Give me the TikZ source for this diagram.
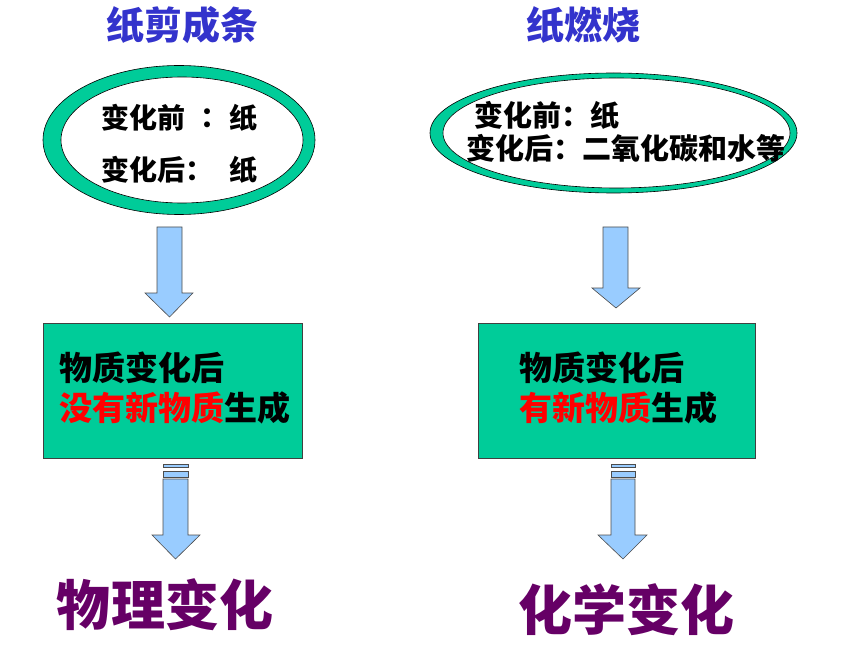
\documentclass[tikz,border=0pt]{standalone}
\usepackage{fontspec}
\setmainfont{Noto Sans CJK SC}
\newfontfamily\cjk{Noto Sans CJK SC}
\definecolor{boxgreen}{RGB}{0,204,153}
\definecolor{arrowblue}{RGB}{153,204,255}
\definecolor{titleblue}{RGB}{51,51,204}
\definecolor{labelpurple}{RGB}{102,0,102}
\definecolor{hotred}{RGB}{255,0,0}
\tikzset{
  ring/.style={fill=boxgreen, draw=black, line width=0.6bp},
  hole/.style={fill=white, draw=black, line width=0.6bp},
  greenbox/.style={fill=boxgreen, draw=black!75, line width=0.8bp},
  blockarrow/.style={fill=arrowblue, draw=black!70, line width=0.6bp, line join=miter},
  txt/.style={inner sep=0pt, anchor=west, font=\cjk\bfseries},
  title/.style={inner sep=0pt, text=titleblue, font=\cjk\bfseries\fontsize{38bp}{40bp}\selectfont},
  bigl/.style={inner sep=0pt, text=labelpurple, font=\cjk\bfseries\fontsize{54bp}{56bp}\selectfont},
  elltext/.style={txt, font=\cjk\bfseries\fontsize{28bp}{30bp}\selectfont},
  elltextb/.style={txt, font=\cjk\bfseries\fontsize{29bp}{31bp}\selectfont},
  boxtext/.style={txt, font=\cjk\bfseries\fontsize{33bp}{36bp}\selectfont},
}
\begin{document}
\begin{tikzpicture}[x=1bp,y=-1bp]
\useasboundingbox (0,0) rectangle (860,645);
% titles
\node[title] (t1) at (182,25) {纸剪成条};
\node[title] (t2) at (583,25) {纸燃烧};
% left ellipse
\path[ring] (179,140) ellipse [x radius=136, y radius=74.5];
\path[hole] (182,140) ellipse [x radius=121, y radius=63];
\node[elltext] (l1a) at (101,118) {变化前};
\node[elltext] (l1b) at (200,118) {：};
\node[elltext] (l1c) at (229,118) {纸};
\node[elltext] (l2a) at (101,170) {变化后：};
\node[elltext] (l2c) at (229,170) {纸};
% right ellipse
\path[ring] (613.5,133) ellipse [x radius=183.5, y radius=60];
\path[hole] (616.5,133) ellipse [x radius=173.5, y radius=55];
\node[elltextb] (r1) at (474,115) {变化前：纸};
\node[elltextb] (r2) at (466,148) {变化后：二氧化碳和水等};
% upper arrows
\path[blockarrow] (157,227) -- (182,227) -- (182,293) -- (193,293) -- (169.5,317) -- (145,293) -- (157,293) -- cycle;
\path[blockarrow] (603,227) -- (628,227) -- (628,288) -- (640,288) -- (616,308) -- (592,288) -- (603,288) -- cycle;
% boxes
\node[greenbox, minimum width=259bp, minimum height=135bp, inner sep=0pt, anchor=north west] (b1) at (43,323) {};
\node[greenbox, minimum width=277bp, minimum height=135bp, inner sep=0pt, anchor=north west] (b2) at (478,323) {};
\node[boxtext] (b1a) at (59,368) {物质变化后};
\node[boxtext] (b1b) at (59,408) {\textcolor{hotred}{没有新物质}生成};
\node[boxtext] (b2a) at (519,368) {物质变化后};
\node[boxtext] (b2b) at (519,408) {\textcolor{hotred}{有新物质}生成};
% lower striped arrows
\path[blockarrow] (163,464) rectangle (188,467);
\path[blockarrow] (163,471) rectangle (188,477);
\path[blockarrow] (163,479) -- (188,479) -- (188,535) -- (200,535) -- (175.5,559) -- (152,535) -- (163,535) -- cycle;
\path[blockarrow] (611,464) rectangle (635,467);
\path[blockarrow] (611,471) rectangle (635,477);
\path[blockarrow] (611,479) -- (635,479) -- (635,535) -- (647,535) -- (623,559) -- (598,535) -- (611,535) -- cycle;
% bottom labels
\node[bigl] (p1) at (165,605) {物理变化};
\node[bigl] (p2) at (626,610) {化学变化};
\end{tikzpicture}
\end{document}
